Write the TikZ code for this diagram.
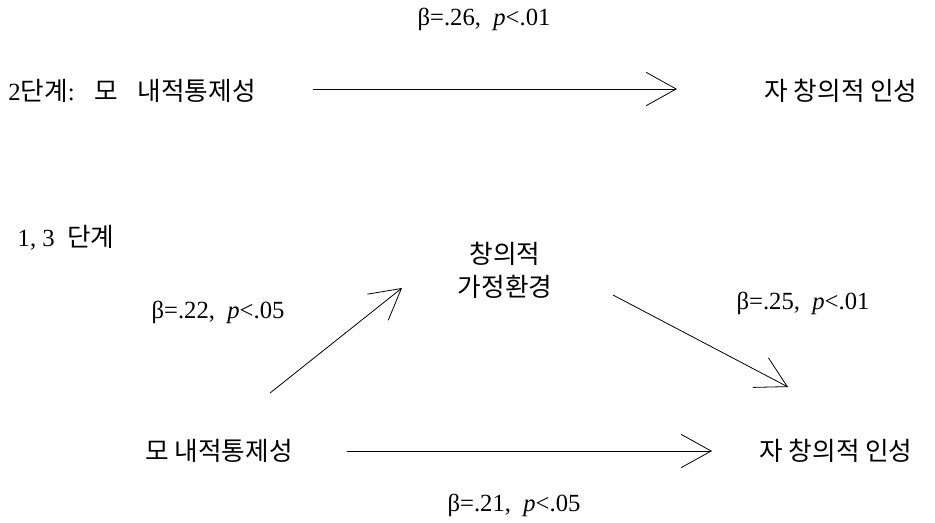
\documentclass[tikz,border=0pt]{standalone}
\usepackage{fontspec}
\setmainfont{Liberation Serif}
\newfontfamily\krfont{Noto Sans CJK KR}[Scale=1.04]
\usetikzlibrary{arrows.meta}
\newcommand{\kor}[1]{{\krfont #1}}

\begin{document}
\begin{tikzpicture}[x=0.75pt,y=-0.75pt,>={Straight Barb[length=22.5pt,width=25pt]},font=\fontsize{18.5}{24.75}\selectfont,
    txt/.style={inner sep=0pt},
    conn/.style={->,line width=0.6pt}]
    \useasboundingbox (0,0) rectangle (935,522);
    % 2단계
    \node[txt] (b26) at (484,19) {β=.26,\ \ \textit{p}<.01};
    \node[txt] (s2x) at (132,91) {2\kor{단계}:\hspace{0.8em}\kor{모}\hspace{0.8em}\kor{내적통제성}};
    \node[txt] (s2y) at (841,91) {\kor{자 창의적 인성}};
    \draw[conn] ([shift={(181,-2)}]s2x.center) -- ([shift={(-164,-2)}]s2y.center);
    % 1, 3 단계
    \node[txt] (s13) at (66,238) {1, 3\enspace\kor{단계}};
    \node[txt,align=center] (med) at (505,270) {\kor{창의적}\\\kor{가정환경}};
    \node[txt] (m1) at (219,451) {\kor{모 내적통제성}};
    \node[txt] (y1) at (836,451) {\kor{자 창의적 인성}};
    \node[txt] (b22) at (218,312) {β=.22,\ \ \textit{p}<.05};
    \node[txt] (b25) at (803,303) {β=.25,\ \ \textit{p}<.01};
    \node[txt] (b21) at (514,505) {β=.21,\ \ \textit{p}<.05};
    \draw[conn] ([shift={(51,-58)}]m1.center) -- ([shift={(-103,18)}]med.center);
    \draw[conn] ([shift={(108,25)}]med.center) -- ([shift={(-48,-64)}]y1.center);
    \draw[conn] ([shift={(128,0)}]m1.center) -- ([shift={(-124,0)}]y1.center);
  \end{tikzpicture}
\end{document}
